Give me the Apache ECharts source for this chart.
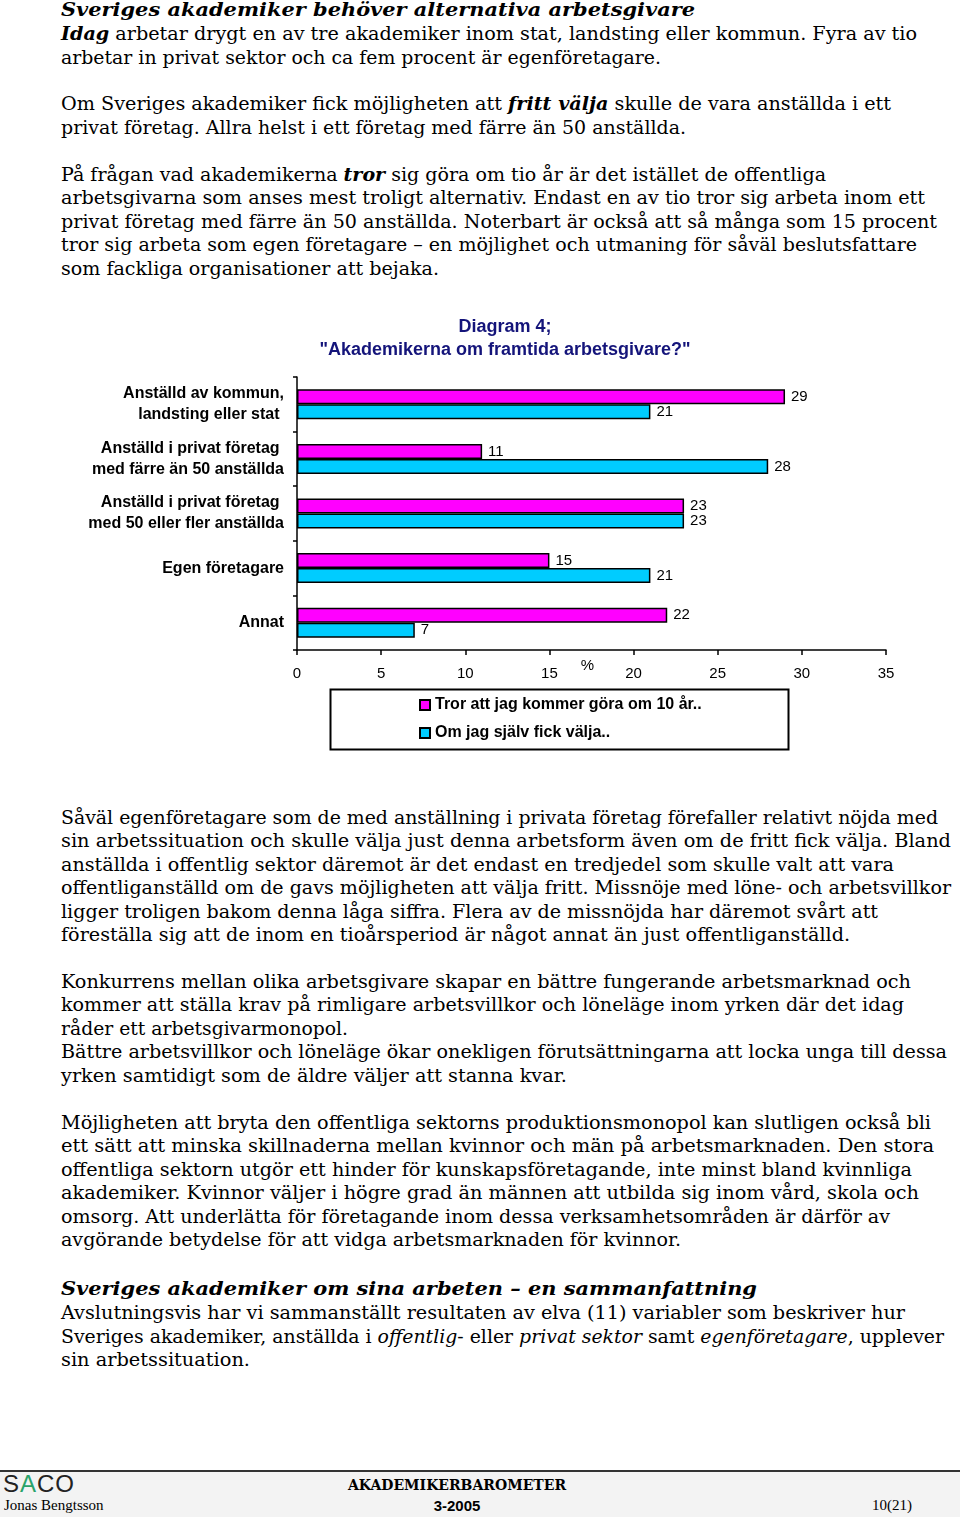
<!DOCTYPE html>
<html><head><meta charset="utf-8">
<script src="https://cdn.jsdelivr.net/npm/echarts@6/dist/echarts.min.js"></script>
<style>
html,body{margin:0;padding:0;background:#fff;}
body{width:960px;height:1517px;position:relative;overflow:hidden;font-family:"DejaVu Serif",serif;color:#000;}
.ln{position:absolute;left:61px;white-space:nowrap;font-size:18px;line-height:22px;transform-origin:0 50%;}
#chart{position:absolute;left:50px;top:300px;width:910px;height:460px;}
#foot{position:absolute;left:0;top:1470px;width:960px;height:47px;background:#f3f3f3;border-top:2px solid #333;}
.ft{position:absolute;white-space:nowrap;}
</style></head><body>
<div id="text"></div>
<div id="chart"></div>
<div id="foot">
 <div class="ft" style="left:3px;top:-2px;font-family:'Liberation Sans',sans-serif;font-size:24px;letter-spacing:1px;color:#222;">S<span style="color:#2aa36b">A</span>CO</div>
 <div class="ft" style="left:4px;top:25px;font-family:'Liberation Serif',serif;font-size:15px;">Jonas Bengtsson</div>
 <div class="ft" style="left:343px;top:5px;width:228px;text-align:center;font-family:'DejaVu Serif',serif;font-weight:bold;font-size:14px;">AKADEMIKERBAROMETER</div>
 <div class="ft" style="left:343px;top:25px;width:228px;text-align:center;font-family:'Liberation Sans',sans-serif;font-weight:bold;font-size:15px;">3-2005</div>
 <div class="ft" style="left:872px;top:25px;font-family:'Liberation Serif',serif;font-size:15px;">10(21)</div>
</div>
<script>
// ---- chart data ----
const categories = [
  'Anställd av kommun,\nlandsting eller stat ',
  'Anställd i privat företag \nmed färre än 50 anställda',
  'Anställd i privat företag \nmed 50 eller fler anställda',
  'Egen företagare',
  'Annat'
];
const seriesNames = ['Tror att jag kommer göra om 10 år..', 'Om jag själv fick välja..'];
const trorValues = [29, 11, 23, 15, 22];
const valjaValues = [21, 28, 23, 21, 7];
const xMin = 0, xMax = 35, xStep = 5;
const chartTitle = 'Diagram 4;\n"Akademikerna om framtida arbetsgivare?"';
const axisUnit = '%';

// ---- page text lines: [centerY, html, rightEdge] ----
const lines = [
 [9, '<b><i>Sveriges akademiker behöver alternativa arbetsgivare</i></b>', 695],
 [33, '<b><i>Idag</i></b> arbetar drygt en av tre akademiker inom stat, landsting eller kommun. Fyra av tio', 917],
 [57, 'arbetar in privat sektor och ca fem procent är egenföretagare.', 661],
 [103, 'Om Sveriges akademiker fick möjligheten att <b><i>fritt välja</i></b> skulle de vara anställda i ett', 891],
 [127, 'privat företag. Allra helst i ett företag med färre än 50 anställda.', 686],
 [174, 'På frågan vad akademikerna <b><i>tror</i></b> sig göra om tio år är det istället de offentliga', 826],
 [197, 'arbetsgivarna som anses mest troligt alternativ. Endast en av tio tror sig arbeta inom ett', 925],
 [221, 'privat företag med färre än 50 anställda. Noterbart är också att så många som 15 procent', 937],
 [244, 'tror sig arbeta som egen företagare – en möjlighet och utmaning för såväl beslutsfattare', 917],
 [268, 'som fackliga organisationer att bejaka.', 439],
 [817, 'Såväl egenföretagare som de med anställning i privata företag förefaller relativt nöjda med', 938],
 [840, 'sin arbetssituation och skulle välja just denna arbetsform även om de fritt fick välja. Bland', 951],
 [864, 'anställda i offentlig sektor däremot är det endast en tredjedel som skulle valt att vara', 894],
 [887, 'offentliganställd om de gavs möjligheten att välja fritt. Missnöje med löne- och arbetsvillkor', 951],
 [911, 'ligger troligen bakom denna låga siffra. Flera av de missnöjda har däremot svårt att', 878],
 [934, 'föreställa sig att de inom en tioårsperiod är något annat än just offentliganställd.', 850],
 [981, 'Konkurrens mellan olika arbetsgivare skapar en bättre fungerande arbetsmarknad och', 911],
 [1004, 'kommer att ställa krav på rimligare arbetsvillkor och löneläge inom yrken där det idag', 904],
 [1028, 'råder ett arbetsgivarmonopol.', 348],
 [1051, 'Bättre arbetsvillkor och löneläge ökar onekligen förutsättningarna att locka unga till dessa', 947],
 [1075, 'yrken samtidigt som de äldre väljer att stanna kvar.', 567],
 [1122, 'Möjligheten att bryta den offentliga sektorns produktionsmonopol kan slutligen också bli', 931],
 [1145, 'ett sätt att minska skillnaderna mellan kvinnor och män på arbetsmarknaden. Den stora', 934],
 [1169, 'offentliga sektorn utgör ett hinder för kunskapsföretagande, inte minst bland kvinnliga', 912],
 [1192, 'akademiker. Kvinnor väljer i högre grad än männen att utbilda sig inom vård, skola och', 919],
 [1216, 'omsorg. Att underlätta för företagande inom dessa verksamhetsområden är därför av', 890],
 [1239, 'avgörande betydelse för att vidga arbetsmarknaden för kvinnor.', 681],
 [1288, '<b><i>Sveriges akademiker om sina arbeten – en sammanfattning</i></b>', 757],
 [1312, 'Avslutningsvis har vi sammanställt resultaten av elva (11) variabler som beskriver hur', 905],
 [1336, 'Sveriges akademiker, anställda i <i>offentlig</i>- eller <i>privat sektor</i> samt <i>egenföretagare</i>, upplever', 944],
 [1359, 'sin arbetssituation.', 250]
];
const host = document.getElementById('text');
lines.forEach(function(l){
  const d = document.createElement('div');
  d.className = 'ln';
  d.style.top = (l[0] - 10) + 'px';
  d.innerHTML = l[1];
  host.appendChild(d);
  const w = d.getBoundingClientRect().width;
  d.style.transform = 'scaleX(' + ((l[2] - 61) / w) + ')';
});

// ---- chart ----
const chart = echarts.init(document.getElementById('chart'), null, {renderer: 'canvas'});
const pink = '#FF00FF', cyan = '#00CCFF';
const sans = '"Liberation Sans", Arial, sans-serif';
chart.setOption({
  animation: false,
  title: {
    text: chartTitle,
    left: 'center', top: 11,
    textStyle: {color: '#14147a', fontFamily: sans, fontWeight: 'bold', fontSize: 18, lineHeight: 23}
  },
  legend: {
    orient: 'vertical', left: 364, top: 390, itemGap: 8,
    itemWidth: 10, itemHeight: 10, icon: 'rect',
    data: seriesNames,
    textStyle: {fontFamily: sans, fontWeight: 'bold', fontSize: 16, color: '#000', lineHeight: 20}
  },
  grid: {left: 247, right: 74, top: 77, bottom: 110},
  xAxis: {
    type: 'value', min: xMin, max: xMax, interval: xStep,
    name: axisUnit, nameLocation: 'middle', nameGap: 8, nameMoveOverlap: false,
    nameTextStyle: {fontFamily: sans, fontSize: 15, color: '#000', padding: [0, 8, 0, 0]},
    splitLine: {show: false},
    axisLine: {show: true, lineStyle: {color: '#000', width: 1.5}},
    axisTick: {show: true, length: 5, lineStyle: {color: '#000', width: 1.5}},
    axisLabel: {fontFamily: sans, fontSize: 15, color: '#000', margin: 16}
  },
  yAxis: {
    type: 'category', data: categories, inverse: true,
    axisLine: {show: true, lineStyle: {color: '#000', width: 1.5}},
    axisTick: {show: true, length: 4, lineStyle: {color: '#000', width: 1.5}},
    axisLabel: {fontFamily: sans, fontSize: 16, fontWeight: 'bold', color: '#000', margin: 13, lineHeight: 21, align: 'right'}
  },
  series: [
    {name: seriesNames[0], type: 'bar', data: trorValues, barWidth: 15, barGap: '0%',
     itemStyle: {color: pink, borderColor: '#000', borderWidth: 1.5},
     label: {show: true, position: 'right', distance: 6, fontFamily: sans, fontSize: 15, color: '#000'}},
    {name: seriesNames[1], type: 'bar', data: valjaValues, barWidth: 15, barGap: '0%',
     itemStyle: {color: cyan, borderColor: '#000', borderWidth: 1.5},
     label: {show: true, position: 'right', distance: 6, fontFamily: sans, fontSize: 15, color: '#000'}}
  ],
  graphic: [{
    type: 'rect', left: 278, top: 387, silent: true,
    shape: {width: 458, height: 60},
    style: {fill: 'none', stroke: '#000', lineWidth: 2}
  }]
});
</script>
</body></html>
